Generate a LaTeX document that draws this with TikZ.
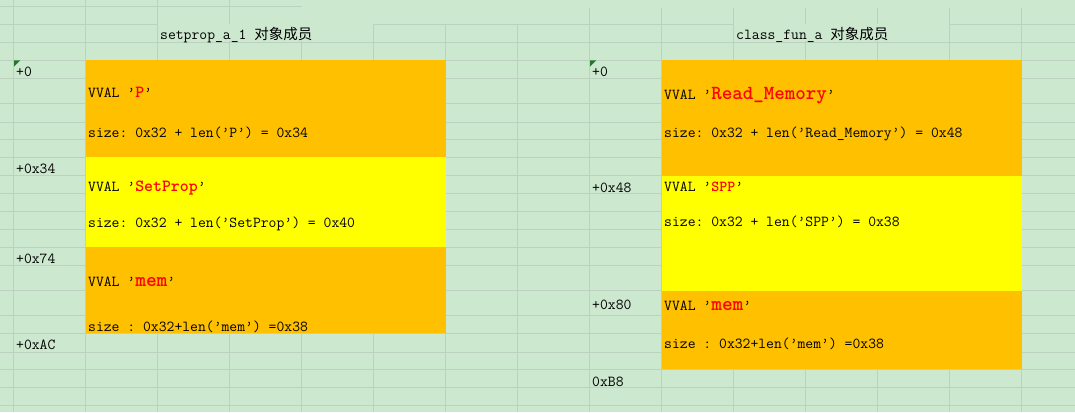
\documentclass[tikz,border=0pt]{standalone}
\usepackage{fontspec}
\newfontfamily\cjk{Noto Sans CJK SC}
\definecolor{bg}{HTML}{CCE8CF}
\definecolor{gridc}{HTML}{BDD1C0}
\definecolor{cellorange}{HTML}{FFC000}
\definecolor{cellyellow}{HTML}{FFFF00}
\definecolor{mark}{HTML}{1F7A2A}
\newcommand{\nm}[2]{\textcolor{red}{\bfseries\fontsize{#1}{#1}\selectfont #2}}
\tikzset{
  txt/.style={anchor=base west, inner sep=0pt, font=\ttfamily\frenchspacing\fontsize{15.24}{16}\selectfont},
  gridline/.style={draw=gridc, line width=0.8pt},
  corner/.style={fill=mark}
}
\begin{document}
\begin{tikzpicture}[x=1pt,y=-1pt]
\useasboundingbox (0,0) rectangle (1075,412);
\fill[bg] (0,0) rectangle (1075,412);
% grid
\foreach \yy in {24,42,60,78,103,122,139,157,175.5,193,211,229,247,265,290.5,315,333,352,369,387,405}
  \draw[gridline] (0,\yy) -- (1075,\yy);
\draw[gridline] (0,6) -- (301.5,6);
\foreach \xx in {13.5,85.5,157.5,229.5}
  \draw[gridline] (\xx,0) -- (\xx,412);
\foreach \xx in {301.5,373.5,445.5,517.5}
  \draw[gridline] (\xx,24) -- (\xx,412);
\foreach \xx in {589.5,661.5,733.5,805.5,877.5,949.5,1021.5}
  \draw[gridline] (\xx,8) -- (\xx,412);
% overflow of titles hides grid lines
\fill[bg] (158,24.5) rectangle (373,41.5);
\fill[bg] (734,24.5) rectangle (949,41.5);
% cells
\fill[cellorange] (85.5,60) rectangle (445.5,157);
\fill[cellyellow] (85.5,157) rectangle (445.5,247);
\fill[cellorange] (85.5,247) rectangle (445.5,333);
\fill[cellorange] (661.5,60) rectangle (1021.5,175.5);
\fill[cellyellow] (661.5,175.5) rectangle (1021.5,290.5);
\fill[cellorange] (661.5,290.5) rectangle (1021.5,369);
% comment markers
\fill[corner] (14,60.5) -- (20,60.5) -- (14,66.5) -- cycle;
\fill[corner] (590,60.5) -- (596,60.5) -- (590,66.5) -- cycle;
% titles
\node[txt] (t1) at (160,40) {setprop\_a\_1 {\cjk\fontsize{14.5}{15}\selectfont 对象成员}};
\node[txt] (t2) at (736,40) {class\_fun\_a {\cjk\fontsize{14.5}{15}\selectfont 对象成员}};
% left offsets
\node[txt] (l0) at (16,76) {+0};
\node[txt] (l1) at (16,173) {+0x34};
\node[txt] (l2) at (16,263) {+0x74};
\node[txt] (l3) at (16,349) {+0xAC};
% right offsets
\node[txt] (r0) at (592,76) {+0};
\node[txt] (r1) at (592,192) {+0x48};
\node[txt] (r2) at (592,309) {+0x80};
\node[txt] (r3) at (592,386) {0xB8};
% left cells text
\node[txt] (a1) at (88,97) {VVAL ’\nm{17}{P}’};
\node[txt] (a2) at (88,137) {size: 0x32 + len(’P’) = 0x34};
\node[txt] (b1) at (88,191) {VVAL ’\nm{17}{SetProp}’};
\node[txt] (b2) at (88,227) {size: 0x32 + len(’SetProp’) = 0x40};
\node[txt] (c1) at (88,286) {VVAL ’\nm{20.4}{mem}’};
\node[txt] (c2) at (88,331) {size : 0x32+len(’mem’) =0x38};
% right cells text
\node[txt] (d1) at (664,99) {VVAL ’\nm{20}{Read\_Memory}’};
\node[txt] (d2) at (664,137) {size: 0x32 + len(’Read\_Memory’) = 0x48};
\node[txt] (e1) at (664,191) {VVAL ’\nm{15.24}{SPP}’};
\node[txt] (e2) at (664,226) {size: 0x32 + len(’SPP’) = 0x38};
\node[txt] (f1) at (664,310) {VVAL ’\nm{20.4}{mem}’};
\node[txt] (f2) at (664,348) {size : 0x32+len(’mem’) =0x38};
\end{tikzpicture}
\end{document}
